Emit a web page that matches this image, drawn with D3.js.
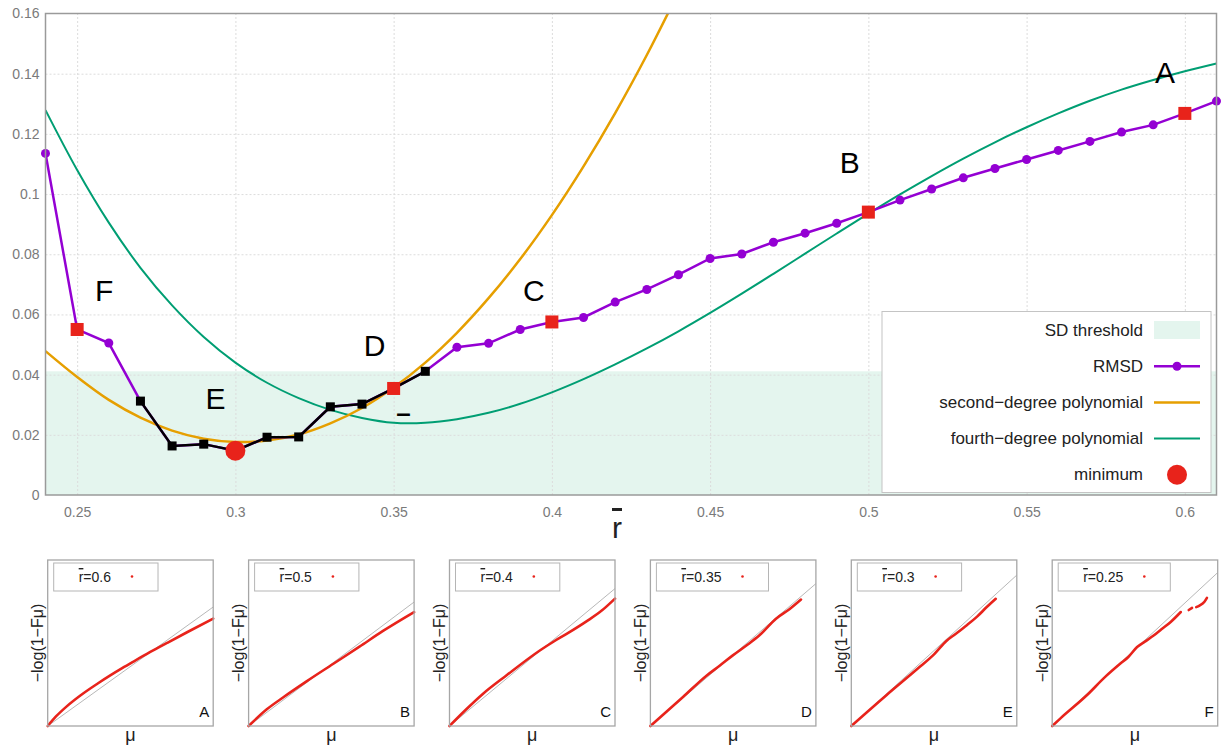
<!DOCTYPE html>
<html>
<head>
<meta charset="utf-8">
<script src="https://cdn.jsdelivr.net/npm/d3@7"></script>
<style>
    body { margin: 0; background: #fff; }
    svg text { font-family: "Liberation Sans", Arial, sans-serif; }
</style>
</head>
<body>
<div id="chart"></div>
<script>
// ---- main chart data ----
const rValues = [0.24, 0.25, 0.26, 0.27, 0.28, 0.29, 0.30, 0.31, 0.32, 0.33, 0.34, 0.35, 0.36, 0.37, 0.38, 0.39,
    0.40, 0.41, 0.42, 0.43, 0.44, 0.45, 0.46, 0.47, 0.48, 0.49, 0.50, 0.51, 0.52, 0.53, 0.54, 0.55, 0.56, 0.57,
    0.58, 0.59, 0.60, 0.61];
const rmsd = [0.1135, 0.0550, 0.0505, 0.0312, 0.0163, 0.0169, 0.0147, 0.0192, 0.0193, 0.0293, 0.0302, 0.0354,
    0.0411, 0.0491, 0.0504, 0.0550, 0.0575, 0.0590, 0.0641, 0.0683, 0.0732, 0.0786, 0.0801, 0.0840, 0.0870,
    0.0903, 0.0940, 0.0980, 0.1017, 0.1054, 0.1085, 0.1115, 0.1145, 0.1175, 0.1206, 0.1230, 0.1268, 0.1309];
const sdThreshold = 0.0411;
const highlightR = [0.25, 0.35, 0.40, 0.50, 0.60];
const minimumR = 0.30;

const poly2R = [0.24, 0.25, 0.26, 0.27, 0.28, 0.29, 0.30, 0.31, 0.32, 0.33, 0.34, 0.35, 0.36, 0.37, 0.38, 0.39,
    0.40, 0.41, 0.42, 0.43, 0.44];
const poly2V = [0.0478, 0.0392, 0.0316, 0.0257, 0.0214, 0.0187, 0.0176, 0.0181, 0.0201, 0.0238, 0.0289, 0.0357,
    0.0440, 0.0539, 0.0654, 0.0784, 0.0930, 0.1092, 0.1269, 0.1462, 0.1671];

const poly4R = [0.24, 0.25, 0.26, 0.27, 0.28, 0.29, 0.30, 0.31, 0.32, 0.33, 0.34, 0.35, 0.36, 0.37, 0.38, 0.39,
    0.40, 0.41, 0.42, 0.43, 0.44, 0.45, 0.46, 0.47, 0.48, 0.49, 0.50, 0.51, 0.52, 0.53, 0.54, 0.55, 0.56, 0.57,
    0.58, 0.59, 0.60, 0.61];
const poly4V = [0.1279, 0.1080, 0.0905, 0.0755, 0.0630, 0.0525, 0.0440, 0.0373, 0.0322, 0.0283, 0.0256, 0.0240,
    0.0240, 0.0252, 0.0273, 0.0303, 0.0341, 0.0385, 0.0434, 0.0487, 0.0544, 0.0605, 0.0669, 0.0735, 0.0802,
    0.0869, 0.0935, 0.0999, 0.1060, 0.1118, 0.1172, 0.1222, 0.1268, 0.1310, 0.1347, 0.1379, 0.1408, 0.1434];

const xTicks = [0.25, 0.3, 0.35, 0.4, 0.45, 0.5, 0.55, 0.6];
const yTicks = [0, 0.02, 0.04, 0.06, 0.08, 0.1, 0.12, 0.14, 0.16];

const labelNames = ["A", "B", "C", "D", "E", "F", "–"];
const labelR = [0.5937, 0.4941, 0.3943, 0.3440, 0.2937, 0.2585, 0.3531];
const labelV = [0.1405, 0.1106, 0.0681, 0.0498, 0.0322, 0.0681, 0.0272];

const legendNames = ["SD threshold", "RMSD", "second\u2212degree polynomial", "fourth\u2212degree polynomial", "minimum"];

// ---- small panels data (mu fraction, -log(1-F) in diagonal units) ----
const panelLetters = ["A", "B", "C", "D", "E", "F"];
const panelRbar = ["0.6", "0.5", "0.4", "0.35", "0.3", "0.25"];
const panelYMax = [1.395, 1.339, 1.208, 1.166, 1.10, 1.082];
const qqA = [[0, 0], [0.05, 0.08], [0.115, 0.165], [0.216, 0.275], [0.30, 0.355], [0.378, 0.425], [0.45, 0.486],
    [0.519, 0.542], [0.62, 0.622], [0.721, 0.698], [0.842, 0.788], [1.0, 0.902]];
const qqB = [[0, 0], [0.11, 0.135], [0.21, 0.232], [0.35, 0.36], [0.51, 0.50], [0.67, 0.64], [0.81, 0.765],
    [1.0, 0.919]];
const qqC = [[0, 0], [0.10, 0.12], [0.203, 0.235], [0.345, 0.369], [0.548, 0.551], [0.63, 0.615], [0.71, 0.672],
    [0.832, 0.765], [0.92, 0.84], [1.0, 0.927]];
const qqD = [[0, 0], [0.197, 0.204], [0.337, 0.352], [0.42, 0.425], [0.498, 0.496], [0.58, 0.565], [0.659, 0.637],
    [0.759, 0.754], [0.84, 0.82], [0.91, 0.888]];
const qqE = [[0, 0], [0.212, 0.204], [0.414, 0.392], [0.50, 0.475], [0.576, 0.565], [0.63, 0.61],
    [0.70, 0.67], [0.76, 0.725], [0.82, 0.79], [0.873, 0.843]];
const qqF = [[0, 0], [0.05, 0.05], [0.209, 0.20], [0.32, 0.32], [0.412, 0.407], [0.46, 0.45], [0.513, 0.515],
    [0.56, 0.55], [0.615, 0.591], [0.66, 0.63], [0.716, 0.678], [0.777, 0.743], null, [0.825, 0.756],
    [0.845, 0.77], null, [0.87, 0.775], [0.89, 0.785], [0.92, 0.81], [0.935, 0.835]];
const qqCurves = [qqA, qqB, qqC, qqD, qqE, qqF];

// ---- setup ----
const width = 1228, height = 747;
const margin = { top: 13.5, right: 11.5, bottom: 252, left: 45.5 };
const colors = { rmsd: "#9400d3", poly2: "#e69f00", poly4: "#009e73", red: "#e8231b", band: "#e4f5ee" };

const svg = d3.select("#chart").append("svg")
    .attr("width", width)
    .attr("height", height);

const xScale = d3.scaleLinear().domain([0.24, 0.61]).range([margin.left, width - margin.right]);
const yScale = d3.scaleLinear().domain([0, 0.16]).range([height - margin.bottom, margin.top]);
const fmt = d3.format("~g");

svg.append("clipPath").attr("id", "plotClip")
    .append("rect")
    .attr("x", xScale(0.24)).attr("y", yScale(0.16))
    .attr("width", xScale(0.61) - xScale(0.24))
    .attr("height", yScale(0) - yScale(0.16));

// SD threshold band
svg.append("rect")
    .attr("x", xScale(0.24))
    .attr("y", yScale(sdThreshold))
    .attr("width", xScale(0.61) - xScale(0.24))
    .attr("height", yScale(0) - yScale(sdThreshold))
    .attr("fill", colors.band);

// gridlines
svg.append("g")
    .attr("transform", `translate(0, ${yScale(0)})`)
    .call(d3.axisBottom(xScale).tickValues(xTicks).tickSize(-(yScale(0) - yScale(0.16))).tickFormat(""))
    .call((g) => g.select(".domain").remove())
    .call((g) => g.selectAll("line").attr("stroke", "#dcdcdc").attr("stroke-dasharray", "2,2"));
svg.append("g")
    .attr("transform", `translate(${xScale(0.24)}, 0)`)
    .call(d3.axisLeft(yScale).tickValues(yTicks.slice(1, -1)).tickSize(-(xScale(0.61) - xScale(0.24))).tickFormat(""))
    .call((g) => g.select(".domain").remove())
    .call((g) => g.selectAll("line").attr("stroke", "#dcdcdc").attr("stroke-dasharray", "2,2"));

// axis labels
svg.append("g")
    .attr("transform", `translate(0, ${yScale(0)})`)
    .call(d3.axisBottom(xScale).tickValues(xTicks).tickSize(0).tickPadding(12).tickFormat(fmt))
    .call((g) => g.select(".domain").remove())
    .call((g) => g.selectAll("text").attr("fill", "#7a7a7a").style("font-size", "14px"));
svg.append("g")
    .attr("transform", `translate(${xScale(0.24)}, 0)`)
    .call(d3.axisLeft(yScale).tickValues(yTicks).tickSize(0).tickPadding(6).tickFormat(fmt))
    .call((g) => g.select(".domain").remove())
    .call((g) => g.selectAll("text").attr("fill", "#7a7a7a").style("font-size", "14px"));

// curves
const plot = svg.append("g").attr("clip-path", "url(#plotClip)");
const curveLine = d3.line()
    .x((d) => xScale(d[0]))
    .y((d) => yScale(d[1]))
    .curve(d3.curveCatmullRom);

plot.append("path")
    .datum(poly4R.map((r, i) => [r, poly4V[i]]))
    .attr("d", curveLine)
    .attr("fill", "none")
    .attr("stroke", colors.poly4)
    .attr("stroke-width", 2);
plot.append("path")
    .datum(poly2R.map((r, i) => [r, poly2V[i]]))
    .attr("d", curveLine)
    .attr("fill", "none")
    .attr("stroke", colors.poly2)
    .attr("stroke-width", 2.5);

// RMSD line
const rmsdData = rValues.map((r, i) => ({ r: r, v: rmsd[i] }));
const inside = rmsdData.filter((d) => d.v <= sdThreshold && d.r > 0.26);
const rmsdLine = d3.line().x((d) => xScale(d.r)).y((d) => yScale(d.v));

svg.append("path")
    .datum(rmsdData)
    .attr("d", rmsdLine)
    .attr("fill", "none")
    .attr("stroke", colors.rmsd)
    .attr("stroke-width", 2.5);
svg.append("path")
    .datum(inside)
    .attr("d", rmsdLine)
    .attr("fill", "none")
    .attr("stroke", "#000")
    .attr("stroke-width", 2.5);

svg.selectAll(".rmsd-dot")
    .data(rmsdData.filter((d) => !inside.includes(d)))
    .join("circle")
    .attr("class", "rmsd-dot")
    .attr("cx", (d) => xScale(d.r))
    .attr("cy", (d) => yScale(d.v))
    .attr("r", 4.5)
    .attr("fill", colors.rmsd);
svg.selectAll(".in-sq")
    .data(inside)
    .join("rect")
    .attr("class", "in-sq")
    .attr("x", (d) => xScale(d.r) - 4.5)
    .attr("y", (d) => yScale(d.v) - 4.5)
    .attr("width", 9)
    .attr("height", 9)
    .attr("fill", "#000");

const findV = (r) => rmsdData.find((d) => Math.abs(d.r - r) < 1e-6).v;
svg.selectAll(".hi-sq")
    .data(highlightR)
    .join("rect")
    .attr("class", "hi-sq")
    .attr("x", (r) => xScale(r) - 6.5)
    .attr("y", (r) => yScale(findV(r)) - 6.5)
    .attr("width", 13)
    .attr("height", 13)
    .attr("fill", colors.red);
svg.append("circle")
    .attr("cx", xScale(minimumR))
    .attr("cy", yScale(findV(minimumR)))
    .attr("r", 10)
    .attr("fill", colors.red);

// frame
svg.append("rect")
    .attr("x", xScale(0.24)).attr("y", yScale(0.16))
    .attr("width", xScale(0.61) - xScale(0.24))
    .attr("height", yScale(0) - yScale(0.16))
    .attr("fill", "none")
    .attr("stroke", "#9a9a9a")
    .attr("stroke-width", 1.5);

// letter annotations
svg.selectAll(".anno")
    .data(labelNames)
    .join("text")
    .attr("class", "anno")
    .attr("x", (d, i) => xScale(labelR[i]))
    .attr("y", (d, i) => yScale(labelV[i]))
    .attr("text-anchor", "middle")
    .attr("dominant-baseline", "central")
    .style("font-size", (d) => (d === "–" ? "26px" : "30px"))
    .style("font-weight", (d) => (d === "–" ? "bold" : "normal"))
    .attr("fill", "#000")
    .text((d) => d);

// x axis title
svg.append("text")
    .attr("x", 617)
    .attr("y", 538)
    .attr("text-anchor", "middle")
    .style("font-size", "30px")
    .style("text-decoration", "overline")
    .attr("fill", "#222")
    .text("r");

// legend
const legend = svg.append("g");
legend.append("rect")
    .attr("x", 882).attr("y", 311.5)
    .attr("width", 329).attr("height", 181)
    .attr("fill", "#fff")
    .attr("stroke", "#c4c4c4");
legendNames.forEach((name, i) => {
    const cy = 330 + i * 36.2;
    legend.append("text")
        .attr("x", 1143)
        .attr("y", cy)
        .attr("text-anchor", "end")
        .attr("dominant-baseline", "central")
        .style("font-size", "17px")
        .attr("fill", "#222")
        .text(name);
    if (i === 0) {
        legend.append("rect").attr("x", 1154).attr("y", cy - 9).attr("width", 46).attr("height", 18)
            .attr("fill", colors.band);
    } else if (i === 4) {
        legend.append("circle").attr("cx", 1177).attr("cy", cy).attr("r", 10).attr("fill", colors.red);
    } else {
        const c = [null, colors.rmsd, colors.poly2, colors.poly4][i];
        legend.append("line").attr("x1", 1154).attr("x2", 1200).attr("y1", cy).attr("y2", cy)
            .attr("stroke", c).attr("stroke-width", i === 3 ? 2 : 2.5);
        if (i === 1) legend.append("circle").attr("cx", 1177).attr("cy", cy).attr("r", 4.5).attr("fill", c);
    }
});

// ---- small panels ----
const panelTop = 560, panelSize = 165.5, panelBottom = 726;
panelLetters.forEach((letter, i) => {
    const left = 47.7 + i * 200.9;
    const px = d3.scaleLinear().domain([0, 1]).range([left, left + panelSize]);
    const py = d3.scaleLinear().domain([0, panelYMax[i]]).range([panelBottom, panelTop]);
    const g = svg.append("g");

    g.append("line")
        .attr("x1", px(0)).attr("y1", py(0))
        .attr("x2", px(1)).attr("y2", py(1))
        .attr("stroke", "#b8b8b8").attr("stroke-width", 1);

    g.append("path")
        .datum(qqCurves[i])
        .attr("d", d3.line().defined((d) => d !== null).x((d) => px(d[0])).y((d) => py(d[1])).curve(d3.curveMonotoneX))
        .attr("fill", "none")
        .attr("stroke", colors.red)
        .attr("stroke-width", 2.6)
        .attr("stroke-linecap", "round");

    g.append("rect")
        .attr("x", px(0)).attr("y", panelTop)
        .attr("width", panelSize).attr("height", panelBottom - panelTop)
        .attr("fill", "none").attr("stroke", "#a6a6a6").attr("stroke-width", 1.3);

    // inner legend
    const lt = g.append("text")
        .attr("x", left + 31)
        .attr("y", 582)
        .style("font-size", "14px")
        .attr("fill", "#222");
    lt.append("tspan").style("text-decoration", "overline").text("r");
    lt.append("tspan").text("=" + panelRbar[i]);
    const tw = lt.node().getComputedTextLength();
    const dotX = left + 31 + tw + 21;
    g.append("circle").attr("cx", dotX).attr("cy", 576.5).attr("r", 1.3).attr("fill", colors.red);
    g.insert("rect", "text")
        .attr("x", left + 6).attr("y", 563)
        .attr("width", dotX + 26 - (left + 6)).attr("height", 28)
        .attr("fill", "#fff").attr("stroke", "#b5b5b5");

    g.append("text")
        .attr("x", px(1) - 4)
        .attr("y", 717)
        .attr("text-anchor", "end")
        .style("font-size", "15px")
        .attr("fill", "#111")
        .text(letter);

    g.append("text")
        .attr("transform", `translate(${left - 4.5}, ${(panelTop + panelBottom) / 2}) rotate(-90)`)
        .attr("text-anchor", "middle")
        .style("font-size", "16px")
        .attr("fill", "#222")
        .text("\u2212log(1\u2212F\u03bc)");

    g.append("text")
        .attr("x", (px(0) + px(1)) / 2)
        .attr("y", 741)
        .attr("text-anchor", "middle")
        .style("font-size", "18px")
        .attr("fill", "#222")
        .text("\u03bc");
});
</script>
</body>
</html>
